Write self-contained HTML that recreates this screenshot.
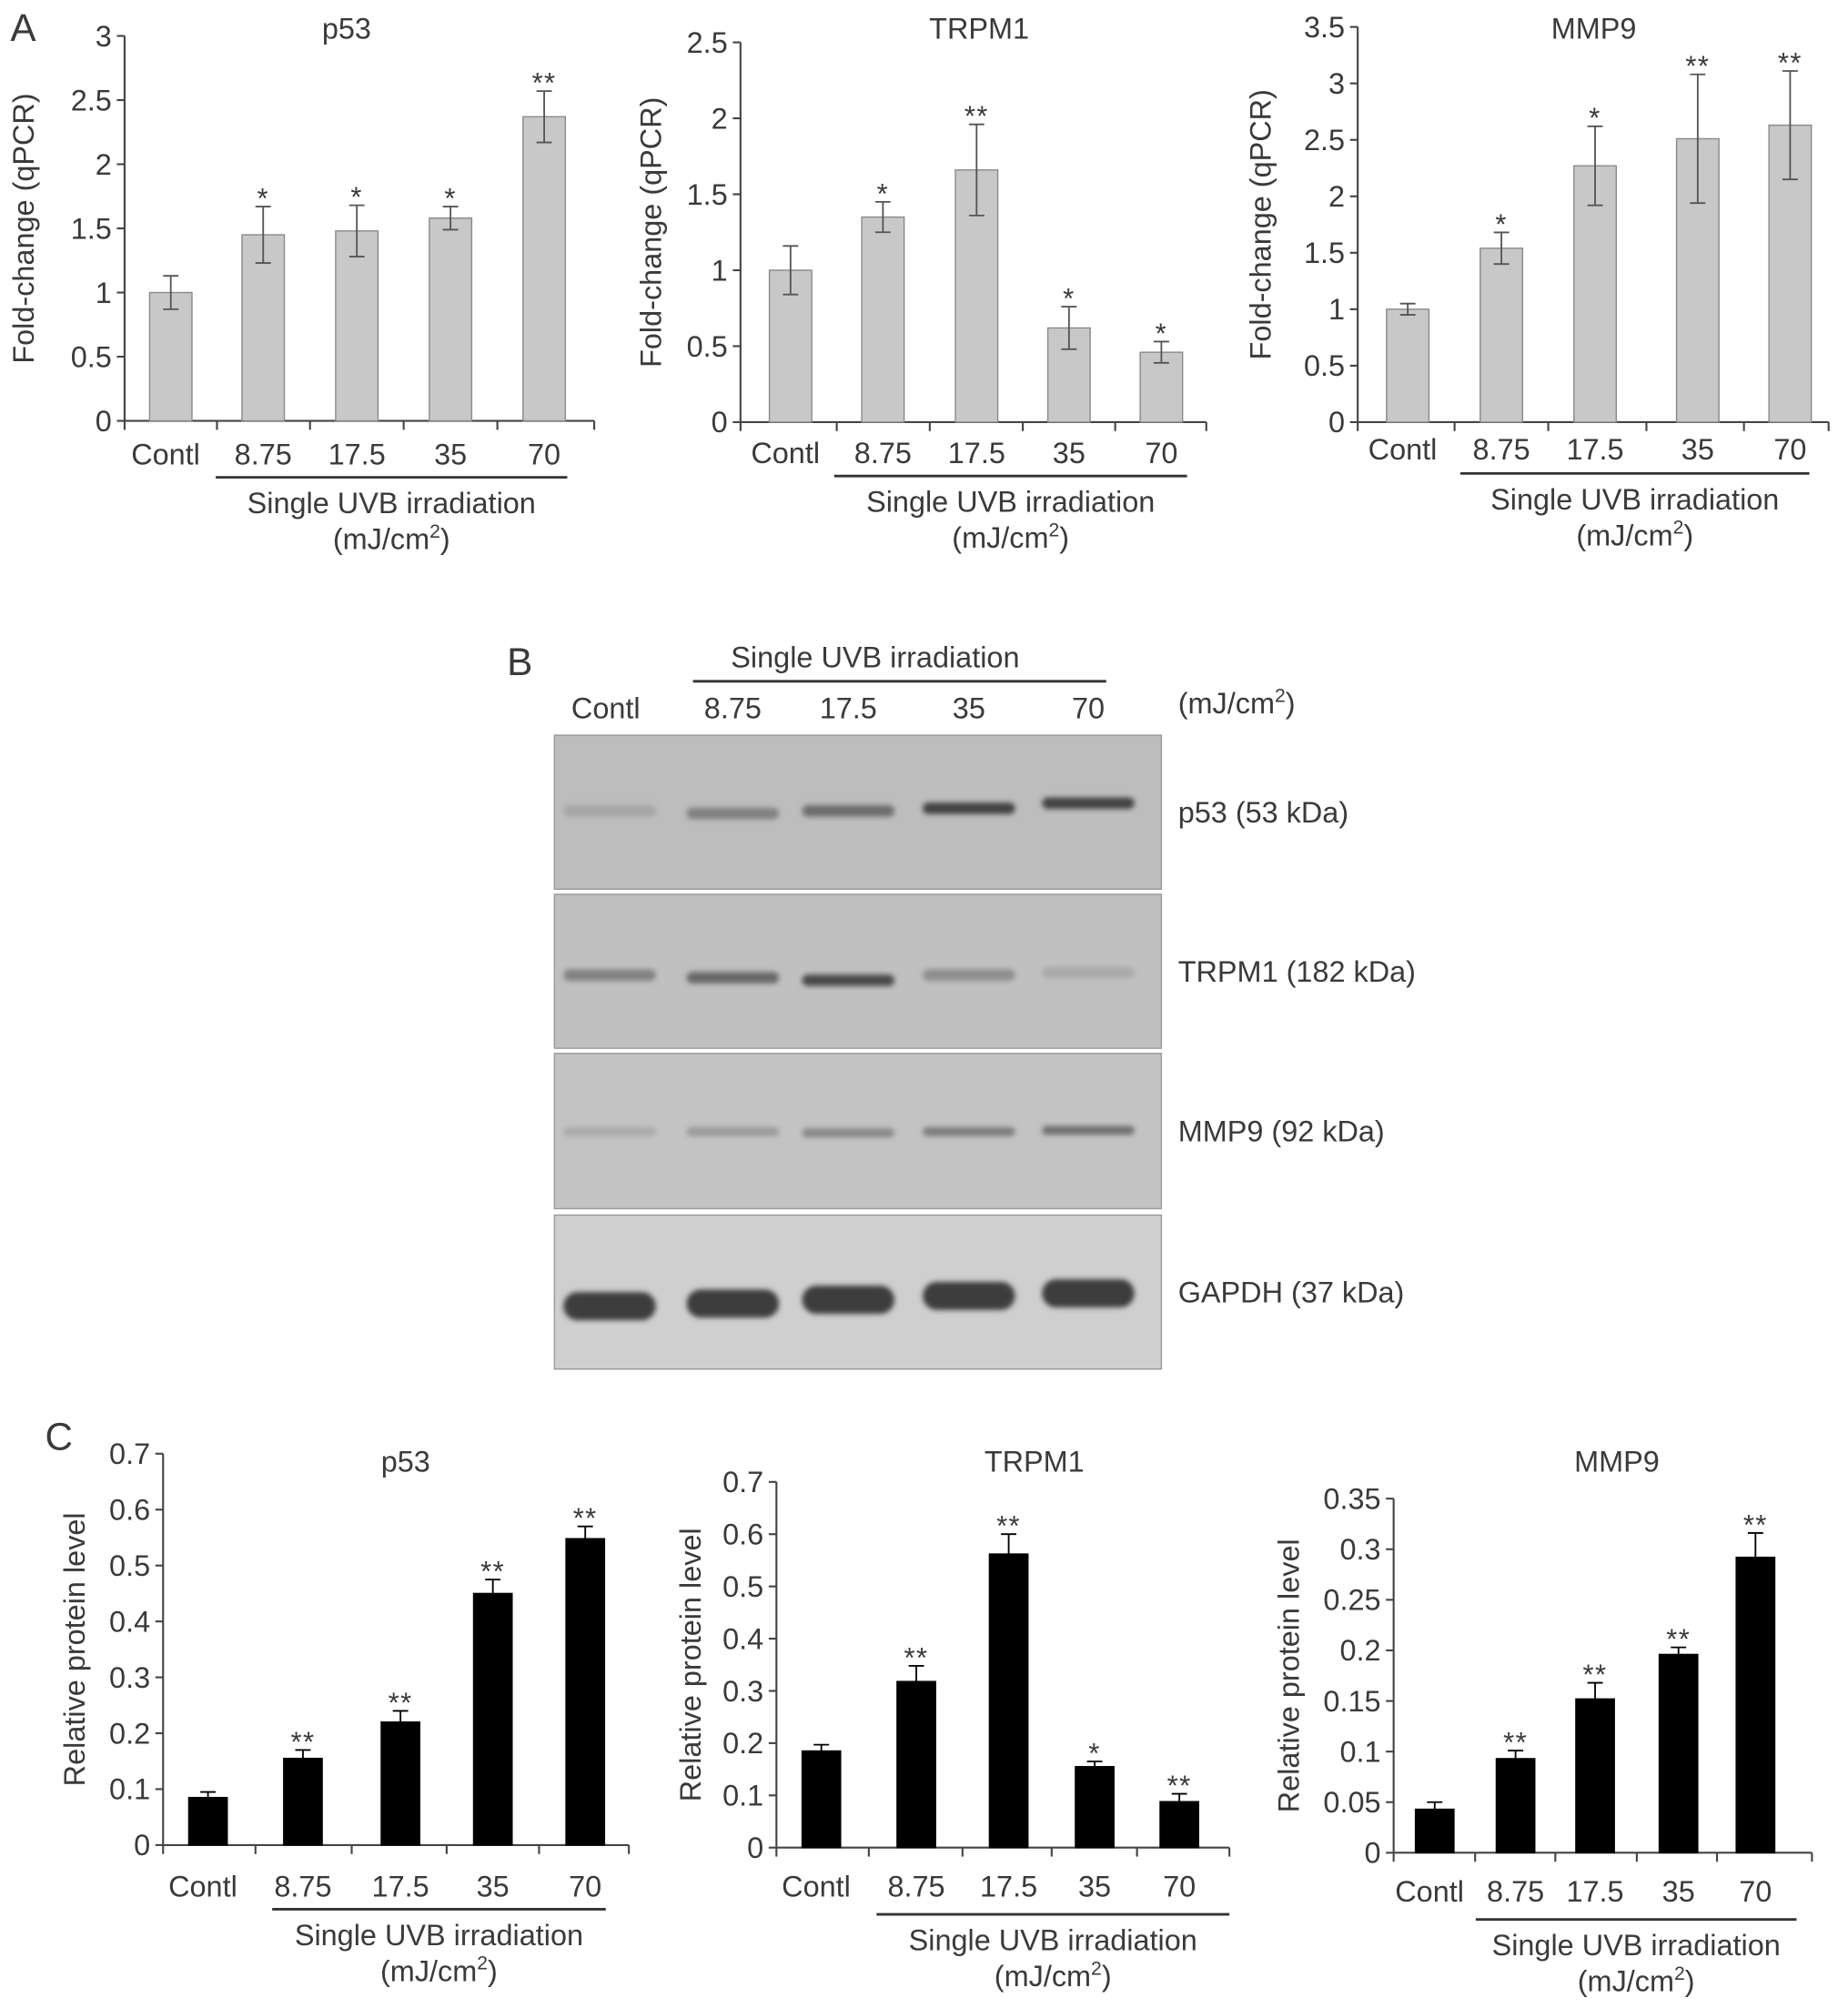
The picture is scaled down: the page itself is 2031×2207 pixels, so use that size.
<!DOCTYPE html>
<html><head><meta charset="utf-8"><style>
html,body{margin:0;padding:0;background:#fff}
svg{display:block}
text{font-family:"Liberation Sans",sans-serif;fill:#3a3a3a}
</style></head><body>
<svg id="fig" width="2031" height="2207" viewBox="0 0 1440 1565" xmlns="http://www.w3.org/2000/svg">
<defs><filter id="blur" x="-20%" y="-100%" width="140%" height="300%"><feGaussianBlur stdDeviation="2"/></filter></defs>
<text x="8" y="32" font-size="30">A</text>
<text x="395" y="526" font-size="30">B</text>
<text x="35" y="1130" font-size="30">C</text>
<g id="charts"></g>
<g id="blot"></g>
</svg>
<script>
const NS='http://www.w3.org/2000/svg';
const FS=23;
const categories=['Contl','8.75','17.5','35','70'];
// Panel A p53
const aP53Values=[1.0,1.45,1.48,1.58,2.37];
const aP53Errors=[0.13,0.22,0.2,0.09,0.2];
const aP53Stars=['','*','*','*','**'];
const aP53Ticks=['0','0.5','1','1.5','2','2.5','3'];
// Panel A TRPM1
const aTrpmValues=[1.0,1.35,1.66,0.62,0.46];
const aTrpmErrors=[0.16,0.1,0.3,0.14,0.07];
const aTrpmStars=['','*','**','*','*'];
const aTrpmTicks=['0','0.5','1','1.5','2','2.5'];
// Panel A MMP9
const aMmpValues=[1.0,1.54,2.27,2.51,2.63];
const aMmpErrors=[0.05,0.14,0.35,0.57,0.48];
const aMmpStars=['','*','*','**','**'];
const aMmpTicks=['0','0.5','1','1.5','2','2.5','3','3.5'];
// Panel C p53
const cP53Values=[0.085,0.155,0.22,0.45,0.548];
const cP53Errors=[0.01,0.015,0.02,0.025,0.022];
const cP53Stars=['','**','**','**','**'];
const cP53Ticks=['0','0.1','0.2','0.3','0.4','0.5','0.6','0.7'];
// Panel C TRPM1
const cTrpmValues=[0.185,0.318,0.562,0.155,0.088];
const cTrpmErrors=[0.012,0.03,0.038,0.01,0.015];
const cTrpmStars=['','**','**','*','**'];
const cTrpmTicks=['0','0.1','0.2','0.3','0.4','0.5','0.6','0.7'];
// Panel C MMP9
const cMmpValues=[0.043,0.093,0.152,0.196,0.292];
const cMmpErrors=[0.007,0.008,0.016,0.007,0.024];
const cMmpStars=['','**','**','**','**'];
const cMmpTicks=['0','0.05','0.1','0.15','0.2','0.25','0.3','0.35'];
// Blot band intensities (0..1)
const blotRows=['p53 (53 kDa)','TRPM1 (182 kDa)','MMP9 (92 kDa)','GAPDH (37 kDa)'];
const bandP53=[0.15,0.45,0.6,0.95,0.95];
const bandTrpm=[0.45,0.65,0.9,0.35,0.12];
const bandMmp=[0.12,0.25,0.4,0.5,0.6];
const bandGapdh=[1,1,1,1,1];

const root=document.getElementById('charts');
function el(tag,attrs,parent){const e=document.createElementNS(NS,tag);for(const k in attrs)e.setAttribute(k,attrs[k]);(parent||root).appendChild(e);return e;}
function txt(x,y,s,size,anchor,parent){const t=el('text',{x:x,y:y,'font-size':size,'text-anchor':anchor||'middle'},parent);t.textContent=s;return t;}

function chart(o,name,values,errors,stars,ticks){
  const g=el('g',{});
  
  
  const yMax=parseFloat(ticks[ticks.length-1]);
  const y=v=>o.y0-(v/yMax)*(o.y0-o.yTop);
  const x=i=>o.xs[i];
  el('line',{x1:o.ax,y1:o.y0,x2:o.ax,y2:o.yTop,stroke:'#444','stroke-width':1.5},g);
  ticks.forEach(t=>{const v=parseFloat(t);
    el('line',{x1:o.ax-6,y1:y(v),x2:o.ax,y2:y(v),stroke:'#444','stroke-width':1.5},g);
    const tl=txt(o.ax-10,y(v)+8,t,FS,'end',g);
    
    
  });
  el('line',{x1:o.ax,y1:o.y0,x2:o.xEnd,y2:o.y0,stroke:'#444','stroke-width':1.5},g);
  for(let i=0;i<=values.length;i++){
    const bx=i===values.length?o.xEnd:(i===0?o.ax:(x(i-1)+x(i))/2);
    el('line',{x1:bx,y1:o.y0,x2:bx,y2:o.y0+7,stroke:'#444','stroke-width':1.5},g);
  }
  values.forEach((v,i)=>{
    const r=el('rect',{x:x(i)-o.bw/2,y:y(v),width:o.bw,height:o.y0-y(v),fill:o.fill,stroke:o.stroke,'stroke-width':1},g);
    
    
    const top=y(v+errors[i]),bot=o.dark?y(v):y(v-errors[i]);
    el('line',{x1:x(i),y1:top,x2:x(i),y2:bot,stroke:o.dark?'#000':'#555','stroke-width':1.3},g);
    el('line',{x1:x(i)-6,y1:top,x2:x(i)+6,y2:top,stroke:o.dark?'#000':'#555','stroke-width':1.3},g);
    if(!o.dark)el('line',{x1:x(i)-6,y1:bot,x2:x(i)+6,y2:bot,stroke:'#555','stroke-width':1.3},g);
    if(stars[i]){const s=txt(x(i),top+1,stars[i],22,'middle',g);s.setAttribute('fill','#888');s.setAttribute('letter-spacing','1');
      
      }
    const cl=txt(x(i)+(i===0?-4:0),o.labelY,categories[i],FS,'middle',g);
    
    
  });
  el('line',{x1:o.ulX1,y1:o.ulY,x2:o.ulX2,y2:o.ulY,stroke:'#333','stroke-width':2},g);
  const mid=(o.ulX1+o.ulX2)/2;
  txt(mid,o.ulY+28,'Single UVB irradiation',FS,'middle',g);
  const u=txt(mid,o.ulY+56,'(mJ/cm',FS,'middle',g);
  const sup=el('tspan',{'font-size':15,dy:-9},u);sup.textContent='2';
  const cl2=el('tspan',{'font-size':FS,dy:9},u);cl2.textContent=')';
  const ttl=txt(o.titleX,o.titleY,o.title,FS,'middle',g);
  
  
  const yt=txt(0,0,o.ytitle,FS,'middle',g);
  yt.setAttribute('transform','translate('+o.ytX+','+((o.y0+o.yTop)/2)+') rotate(-90)');
  
  
}
const A={fill:'#c8c8c8',stroke:'#8a8a8a',bw:33,ytitle:'Fold-change (qPCR)'};
const C={fill:'#000',stroke:'#000',bw:30,dark:true,ytitle:'Relative protein level'};
chart(Object.assign({},A,{ax:97,y0:328,yTop:28,xEnd:463,xs:[133,205,278,351,424],labelY:362,ulX1:168,ulX2:442,ulY:372,title:'p53',titleX:270,titleY:30,ytX:26}),'chart-a-p53',aP53Values,aP53Errors,aP53Stars,aP53Ticks);
chart(Object.assign({},A,{ax:577,y0:329,yTop:33,xEnd:940,xs:[616,688,761,833,905],labelY:361,ulX1:650,ulX2:925,ulY:371,title:'TRPM1',titleX:763,titleY:30,ytX:515}),'chart-a-trpm1',aTrpmValues,aTrpmErrors,aTrpmStars,aTrpmTicks);
chart(Object.assign({},A,{ax:1058,y0:329,yTop:21,xEnd:1425,xs:[1097,1170,1243,1323,1395],labelY:358,ulX1:1138,ulX2:1410,ulY:369,title:'MMP9',titleX:1242,titleY:30,ytX:990}),'chart-a-mmp9',aMmpValues,aMmpErrors,aMmpStars,aMmpTicks);
chart(Object.assign({},C,{ax:127,y0:1438,yTop:1133,xEnd:490,xs:[162,236,312,384,456],labelY:1478,ulX1:212,ulX2:472,ulY:1488,title:'p53',titleX:316,titleY:1147,ytX:66}),'chart-c-p53',cP53Values,cP53Errors,cP53Stars,cP53Ticks);
chart(Object.assign({},C,{ax:605,y0:1440,yTop:1155,xEnd:958,xs:[640,714,786,853,919],labelY:1478,ulX1:683,ulX2:958,ulY:1492,title:'TRPM1',titleX:806,titleY:1147,ytX:546}),'chart-c-trpm1',cTrpmValues,cTrpmErrors,cTrpmStars,cTrpmTicks);
chart(Object.assign({},C,{ax:1086,y0:1444,yTop:1168,xEnd:1412,xs:[1118,1181,1243,1308,1368],labelY:1482,ulX1:1150,ulX2:1400,ulY:1496,title:'MMP9',titleX:1260,titleY:1147,ytX:1012}),'chart-c-mmp9',cMmpValues,cMmpErrors,cMmpStars,cMmpTicks);

// Western blot
const bg=document.getElementById('blot');
const laneX=[475,571,661,755,848];
txt(682,520,'Single UVB irradiation',FS,'middle',bg);
el('line',{x1:540,y1:531,x2:862,y2:531,stroke:'#333','stroke-width':2},bg);
categories.forEach((c,i)=>{const t=txt(laneX[i]-(i===0?3:0),560,c,FS,'middle',bg);
  
  });
const unit=txt(918,556,'(mJ/cm',FS,'start',bg);
const s2=el('tspan',{'font-size':15,dy:-9},unit);s2.textContent='2';
const s3=el('tspan',{'font-size':FS,dy:9},unit);s3.textContent=')';
const panels=[{y:573,h:120,c:'#bdbdbd',bands:bandP53,by:[632,634,632,630,626],bh:9},
 {y:697,h:120,c:'#c0c0c0',bands:bandTrpm,by:[760,762,764,760,758],bh:9},
 {y:821,h:121,c:'#c3c3c3',bands:bandMmp,by:[882,882,883,882,881],bh:7},
 {y:947,h:120,c:'#cfcfcf',bands:bandGapdh,by:[1018,1016,1013,1010,1008],bh:22}];
panels.forEach((p,k)=>{
  const r=el('rect',{x:432,y:p.y,width:473,height:p.h,fill:p.c,stroke:'#999','stroke-width':1},bg);
  
  
  p.bands.forEach((v,i)=>{
    const shade=Math.round(185-v*125);
    const b=el('rect',{x:laneX[i]-36,y:p.by[i]-p.bh/2,width:72,height:p.bh,rx:p.bh/2,fill:'rgb('+shade+','+shade+','+shade+')',filter:'url(#blur)'},bg);
    
    
  });
  const t=txt(918,p.y+p.h/2+8,blotRows[k],FS,'start',bg);
  
  
});
</script>
</body></html>
